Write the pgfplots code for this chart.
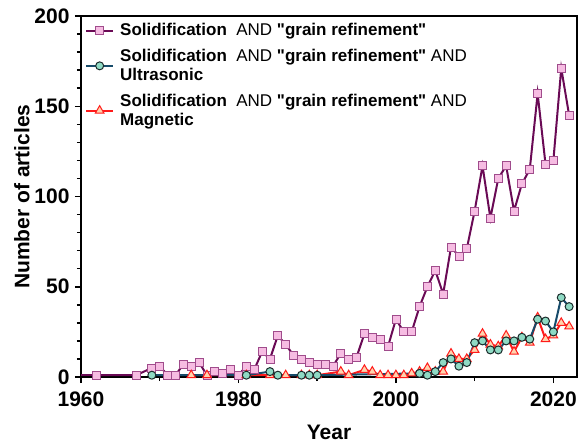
\documentclass[border=0pt]{standalone}
\usepackage{pgfplots}
\pgfplotsset{compat=1.18}
\usepackage{pgfplotstable}
\usepackage{fontspec}
\setmainfont{Liberation Sans}[Ligatures=TeXOff]
\definecolor{purpline}{HTML}{6A0A55}
\definecolor{purpfill}{HTML}{F6BCE2}
\definecolor{purpedge}{HTML}{A04C8C}
\definecolor{tealline}{HTML}{174B6A}
\definecolor{tealfill}{HTML}{8FDAC4}
\definecolor{tealedge}{HTML}{1A2B2B}
\definecolor{redline}{HTML}{FF1A1A}
\definecolor{redfill}{HTML}{FFD3AE}

\pgfplotstableread{
year val
1962 1
1967 1
1969 5
1970 6
1971 1
1972 1
1973 7
1974 6
1975 8
1976 1
1977 3
1978 2
1979 4
1980 1
1981 6
1982 4
1983 14
1984 10
1985 23
1986 18
1987 12
1988 10
1989 8
1990 7
1991 7
1992 6
1993 13
1994 10
1995 11
1996 24
1997 22
1998 21
1999 17
2000 32
2001 25
2002 25
2003 39
2004 50
2005 59
2006 46
2007 72
2008 67
2009 71
2010 92
2011 117
2012 88
2013 110
2014 117
2015 92
2016 107
2017 115
2018 157
2019 118
2020 120
2021 171
2022 145
}\grain

\pgfplotstableread{
year val
1969 1
1981 1
1984 3
1985 1
1988 1
1989 1
1990 1
2003 2
2004 1
2005 3
2006 8
2007 10
2008 6
2009 8
2010 19
2011 20
2012 15
2013 15
2014 20
2015 20
2016 22
2017 21
2018 32
2019 31
2020 25
2021 44
2022 39
}\ultra

\pgfplotstableread{
year val
1974 1
1976 1
1981 1
1984 1
1986 1
1988 1
1989 1
1990 1
1993 3
1994 1
1996 4
1997 3
1998 1
1999 1
2000 1
2001 1
2002 2
2003 3
2004 5
2005 3
2006 3
2007 13
2008 10
2009 10
2010 15
2011 24
2012 18
2013 17
2014 23
2015 14
2016 22
2017 19
2018 33
2019 21
2020 23
2021 30
2022 28
}\magn

\begin{document}
\begin{tikzpicture}
\useasboundingbox (-81pt,-68pt) rectangle (497pt,377pt);
\begin{axis}[
  at={(0pt,0pt)}, anchor=south west,
  scale only axis, width=496pt, height=361pt,
  xmin=1960, xmax=2023, ymin=0, ymax=200,
  xtick={1960,1980,2000,2020}, minor x tick num=1,
  ytick={0,50,100,150,200}, minor y tick num=4,
  xtick pos=lower, ytick pos=left,
  tick align=outside,
  major tick length=6pt, minor tick length=4pt,
  every tick/.style={black, line width=1.5pt},
  axis line style={line width=1.5pt, black},
  x tick label style={/pgf/number format/1000 sep={}},
  /pgf/number format/assume math mode=true,
  tick label style={font=\fontsize{21}{24}\selectfont\bfseries},
  xticklabel style={yshift=-5pt},
  yticklabel style={xshift=-2pt},
  xlabel={Year}, ylabel={Number of articles},
  label style={font=\fontsize{21}{24}\selectfont\bfseries},
  xlabel style={yshift=-12pt},
  ylabel style={yshift=-2pt},
  legend cell align=left,
  legend style={at={(0.008,0.985)}, anchor=north west, draw=none, fill=none,
    font=\fontsize{17}{19}\selectfont, row sep=8pt, column sep=4pt,
    cells={align=left}, inner sep=0pt},
  legend image code/.code={\draw[mark repeat=2,mark phase=2] plot coordinates {(0pt,0pt) (13.5pt,0pt) (27pt,0pt)};},
]
\addplot[purpline, line width=2pt, forget plot] coordinates {(1960,1) (1962,1)};
\addplot[purpline, line width=2pt, mark=square*, mark size=4pt,
  mark options={fill=purpfill, draw=purpedge, line width=0.8pt}, forget plot] table[x=year,y=val] {\grain};
\addplot[redline, line width=2pt, mark=triangle*, mark size=5pt,
  mark options={fill=redfill, draw=redline, line width=1pt}, forget plot] table[x=year,y=val] {\magn};
\addplot[tealline, line width=2pt, mark=*, mark size=4pt,
  mark options={fill=tealfill, draw=tealedge, line width=1pt}, forget plot] table[x=year,y=val] {\ultra};

\addlegendimage{purpline, line width=2pt, mark=square*, mark size=4pt, mark options={fill=purpfill, draw=purpedge, line width=0.8pt}}
\addlegendentry{\textbf{Solidification}\ \ AND \textbf{"grain refinement"}}
\addlegendimage{tealline, line width=2pt, mark=*, mark size=4pt, mark options={fill=tealfill, draw=tealedge, line width=1pt}}
\addlegendentry{\textbf{Solidification}\ \ AND \textbf{"grain refinement"} AND\\\textbf{Ultrasonic}}
\addlegendimage{redline, line width=2pt, mark=triangle*, mark size=5pt, mark options={fill=redfill, draw=redline, line width=1pt}}
\addlegendentry{\textbf{Solidification}\ \ AND \textbf{"grain refinement"} AND\\\textbf{Magnetic}}
\end{axis}
\end{tikzpicture}
\end{document}
